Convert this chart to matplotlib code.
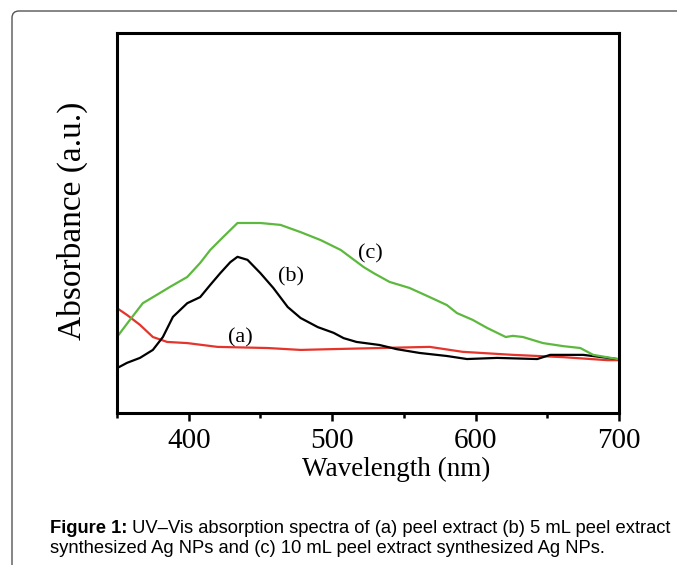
import matplotlib.pyplot as plt
from matplotlib.patches import FancyBboxPatch
from matplotlib.transforms import IdentityTransform

# Spectra (wavelength in nm, absorbance in arbitrary units)
wl_a = [350, 357, 366, 375, 385, 399, 420, 455, 478, 499, 533, 568, 591, 626, 661, 692, 699]
abs_a = [0.276, 0.258, 0.232, 0.200, 0.187, 0.184, 0.174, 0.171, 0.166, 0.168, 0.171, 0.174,
         0.161, 0.153, 0.147, 0.139, 0.139]

wl_b = [350, 357, 366, 375, 382, 389, 399, 408, 415, 422, 429, 434, 441, 450, 459, 469,
        478, 490, 501, 508, 517, 533, 545, 561, 580, 594, 615, 643, 652, 675, 699]
abs_b = [0.118, 0.132, 0.145, 0.166, 0.200, 0.253, 0.289, 0.305, 0.337, 0.368, 0.397, 0.411,
         0.403, 0.368, 0.329, 0.279, 0.250, 0.226, 0.211, 0.197, 0.187, 0.179, 0.168, 0.158,
         0.150, 0.142, 0.145, 0.142, 0.153, 0.153, 0.142]

wl_c = [350, 359, 368, 380, 387, 399, 408, 415, 424, 434, 450, 464, 478, 492, 506, 522,
        529, 540, 554, 568, 580, 587, 598, 608, 621, 626, 633, 647, 661, 673, 682, 699]
abs_c = [0.200, 0.245, 0.289, 0.316, 0.332, 0.358, 0.395, 0.429, 0.463, 0.500, 0.500, 0.495,
         0.476, 0.455, 0.429, 0.384, 0.368, 0.345, 0.329, 0.305, 0.284, 0.263, 0.245, 0.224,
         0.200, 0.203, 0.200, 0.184, 0.176, 0.171, 0.153, 0.142]

# Curve labels and where they sit
curve_labels = ["(a)", "(b)", "(c)"]
label_pos = [(436, 0.197), (471, 0.358), (527, 0.418)]

x_ticks = [400, 500, 600, 700]
caption_bold = "Figure 1:"
caption_rest = " UV\u2013Vis absorption spectra of (a) peel extract (b) 5 mL peel extract"
caption_line2 = "synthesized Ag NPs and (c) 10 mL peel extract synthesized Ag NPs."

serif = "Liberation Serif"
sans = "Liberation Sans"

fig = plt.figure(figsize=(6.77, 5.65), dpi=100)

# rounded frame around the whole figure (runs off the right and bottom edges)
frame = FancyBboxPatch((12, -30), 720, 565 - 11 + 30,
                       boxstyle="round,pad=0,rounding_size=7",
                       transform=IdentityTransform(), facecolor="none",
                       edgecolor="#555555", linewidth=1.0)
fig.patches.append(frame)

ax = fig.add_axes([117 / 677, 1 - 413 / 565, 502 / 677, 380 / 565])

ax.plot(wl_a, abs_a, color="#e5342b", linewidth=1.6)
ax.plot(wl_b, abs_b, color="black", linewidth=1.6)
ax.plot(wl_c, abs_c, color="#5db83e", linewidth=1.6)

for text, (x, y) in zip(curve_labels, label_pos):
    ax.text(x, y, text, fontsize=16, family=serif, ha="center", va="center")

ax.set_xlim(350, 700)
ax.set_ylim(0, 1)
ax.set_xticks(x_ticks)
ax.set_xticks([350, 450, 550, 650], minor=True)
ax.tick_params(axis="x", which="major", direction="out", length=6, width=1.8,
               pad=5, labelsize=21)
ax.tick_params(axis="x", which="minor", direction="out", length=3.5, width=1.8)
ax.tick_params(axis="y", which="both", left=False, labelleft=False)
for lbl in ax.get_xticklabels():
    lbl.set_family(serif)
for spine in ax.spines.values():
    spine.set_linewidth(2.2)

ax.set_xlabel("Wavelength (nm)", fontsize=19.5, family=serif)
ax.set_ylabel("Absorbance (a.u.)", fontsize=24, family=serif)
ax.xaxis.set_label_coords(0.556, -0.115)
ax.yaxis.set_label_coords(-0.058, 0.505)

# caption: bold "Figure 1:" followed by normal text
t1 = fig.text(50 / 677, 1 - 533 / 565, caption_bold, fontsize=13.2, family=sans,
              weight="bold", va="baseline")
fig.canvas.draw()
bb = t1.get_window_extent()
fig.text(bb.x1 / 677, 1 - 533 / 565, caption_rest, fontsize=13.2, family=sans, va="baseline")
fig.text(50 / 677, 1 - 553 / 565, caption_line2, fontsize=13.2, family=sans, va="baseline")

fig.savefig("out.png", dpi=100)
